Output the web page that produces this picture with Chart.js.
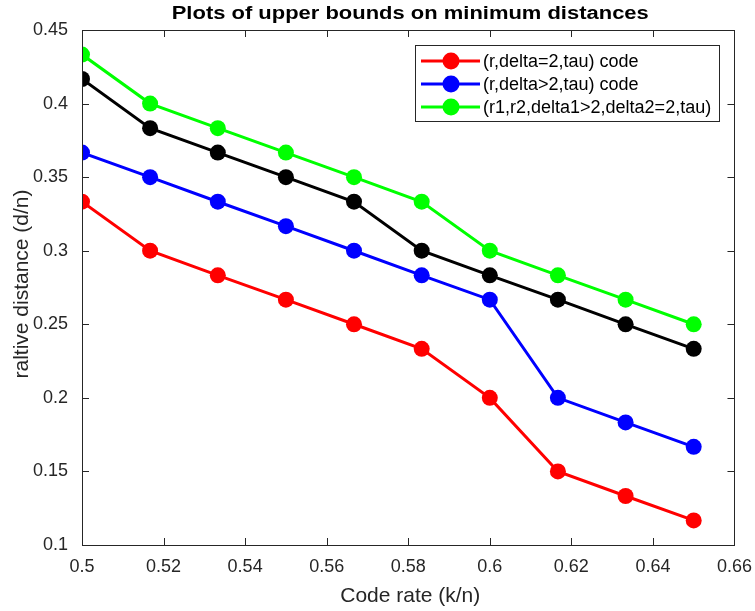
<!DOCTYPE html>
<html>
<head>
<meta charset="utf-8">
<script src="https://cdn.jsdelivr.net/npm/chart.js@4.4.1/dist/chart.umd.min.js"></script>
<style>
	html, body { margin: 0; padding: 0; background: #fff; }
	#wrap { width: 755px; height: 611px; position: relative; }
</style>
</head>
<body>
<div id="wrap"><canvas id="chart" width="755" height="611"></canvas></div>
<script>
// code rates k/n
const rates = [0.5, 0.5167, 0.5333, 0.55, 0.5667, 0.5833, 0.6, 0.6167, 0.6333, 0.65];
const redVals = [0.3333, 0.3, 0.2833, 0.2667, 0.25, 0.2333, 0.2, 0.15, 0.1333, 0.1167];
const blueVals = [0.3667, 0.35, 0.3333, 0.3167, 0.3, 0.2833, 0.2667, 0.2, 0.1833, 0.1667];
const blackVals = [0.4167, 0.3833, 0.3667, 0.35, 0.3333, 0.3, 0.2833, 0.2667, 0.25, 0.2333];
const greenVals = [0.4333, 0.4, 0.3833, 0.3667, 0.35, 0.3333, 0.3, 0.2833, 0.2667, 0.25];
const seriesLabels = ['(r,delta=2,tau) code', '(r,delta>2,tau) code', '', '(r1,r2,delta1>2,delta2=2,tau)'];
const xTicks = [0.5, 0.52, 0.54, 0.56, 0.58, 0.6, 0.62, 0.64, 0.66];
const yTicks = [0.1, 0.15, 0.2, 0.25, 0.3, 0.35, 0.4, 0.45];

const FONT = 'Helvetica, "Liberation Sans", Arial, sans-serif';
const TXT = '#262626';

function toPoints(vals) {
	return vals.map((v, i) => ({ x: rates[i], y: v }));
}

function mkSet(label, vals, color) {
	return {
		label: label,
		data: toPoints(vals),
		borderColor: color,
		backgroundColor: color,
		borderWidth: 3,
		pointRadius: 8,
		pointHoverRadius: 8,
		pointBorderWidth: 0,
		showLine: true,
		tension: 0
	};
}

// box, inside ticks, titles and legend, MATLAB style
const matlabLook = {
	id: 'matlabLook',
	afterDraw(chart) {
		const ctx = chart.ctx;
		const a = chart.chartArea;
		const xs = chart.scales.x, ys = chart.scales.y;
		ctx.save();
		ctx.strokeStyle = TXT;
		ctx.lineWidth = 1;
		ctx.beginPath();
		xTicks.forEach(t => {
			const px = Math.round(xs.getPixelForValue(t)) + 0.5;
			ctx.moveTo(px, a.bottom); ctx.lineTo(px, a.bottom - 7);
			ctx.moveTo(px, a.top); ctx.lineTo(px, a.top + 7);
		});
		yTicks.forEach(t => {
			const py = Math.round(ys.getPixelForValue(t)) + 0.5;
			ctx.moveTo(a.left, py); ctx.lineTo(a.left + 7, py);
			ctx.moveTo(a.right, py); ctx.lineTo(a.right - 7, py);
		});
		ctx.stroke();
		ctx.strokeRect(Math.round(a.left) + 0.5, Math.round(a.top) + 0.5, Math.round(a.right - a.left), Math.round(a.bottom - a.top));

		// title, a little wider like the original render
		ctx.fillStyle = '#000';
		ctx.font = 'bold 18px ' + FONT;
		ctx.textAlign = 'center';
		ctx.textBaseline = 'middle';
		ctx.save();
		ctx.translate((a.left + a.right) / 2 + 2, 14);
		ctx.scale(1.22, 1);
		ctx.fillText('Plots of upper bounds on minimum distances', 0, 0);
		ctx.restore();

		// axis titles
		ctx.fillStyle = TXT;
		ctx.font = '21px ' + FONT;
		ctx.fillText('Code rate (k/n)', (a.left + a.right) / 2 + 2, 596);
		ctx.save();
		ctx.translate(22, 284);
		ctx.rotate(-Math.PI / 2);
		ctx.fillText('raltive distance (d/n)', 0, 0);
		ctx.restore();

		// legend
		const lx = 415, ly = 45, lw = 304, lh = 76;
		ctx.fillStyle = '#fff';
		ctx.fillRect(lx, ly, lw, lh);
		ctx.strokeStyle = TXT;
		ctx.strokeRect(lx + 0.5, ly + 0.5, lw, lh);
		ctx.font = '18px ' + FONT;
		ctx.textAlign = 'left';
		let row = 0;
		chart.data.datasets.forEach(ds => {
			if (!ds.label) return;
			const yy = 61 + row * 23;
			ctx.strokeStyle = ds.borderColor;
			ctx.lineWidth = 3;
			ctx.beginPath();
			ctx.moveTo(421, yy); ctx.lineTo(480, yy);
			ctx.stroke();
			ctx.fillStyle = ds.backgroundColor;
			ctx.beginPath();
			ctx.arc(451, yy, 8.5, 0, Math.PI * 2);
			ctx.fill();
			ctx.fillStyle = '#000';
			ctx.fillText(ds.label, 483, yy + 1);
			row++;
		});
		ctx.restore();
	}
};

new Chart(document.getElementById('chart'), {
	type: 'scatter',
	data: {
		datasets: [
			mkSet(seriesLabels[0], redVals, '#ff0000'),
			mkSet(seriesLabels[1], blueVals, '#0000ff'),
			mkSet(seriesLabels[2], blackVals, '#000000'),
			mkSet(seriesLabels[3], greenVals, '#00ff00')
		]
	},
	options: {
		responsive: false,
		animation: false,
		layout: { padding: { top: 30, right: 20, left: 0, bottom: 0 } },
		plugins: {
			legend: { display: false },
			tooltip: { enabled: false }
		},
		scales: {
			x: {
				type: 'linear',
				min: 0.5,
				max: 0.66,
				afterBuildTicks: s => { s.ticks = xTicks.map(v => ({ value: v })); },
				afterFit: s => { s.height = 66; },
				grid: { display: false },
				border: { display: false },
				ticks: {
					color: TXT,
					font: { family: FONT, size: 18 },
					padding: 3,
					maxRotation: 0,
					callback: v => String(Number(v.toFixed(2)))
				}
			},
			y: {
				type: 'linear',
				min: 0.1,
				max: 0.45,
				afterBuildTicks: s => { s.ticks = yTicks.map(v => ({ value: v })); },
				afterFit: s => { s.width = 82; },
				grid: { display: false },
				border: { display: false },
				ticks: {
					color: TXT,
					font: { family: FONT, size: 18 },
					padding: 6,
					callback: v => String(Number(v.toFixed(2)))
				}
			}
		}
	},
	plugins: [matlabLook]
});
</script>
</body>
</html>
